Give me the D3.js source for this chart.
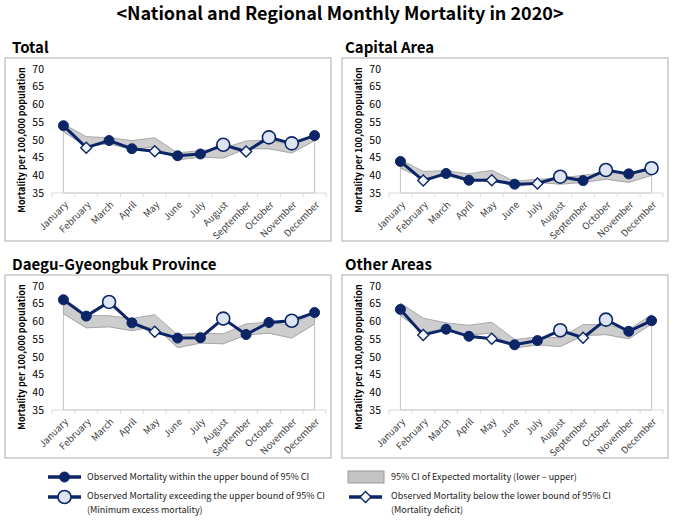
<!DOCTYPE html>
<html>
<head>
<meta charset="utf-8">
<script src="https://cdn.jsdelivr.net/npm/d3@7"></script>
<style>
  body { margin: 0; background: #fff; }
  svg text { font-family: "Noto Sans CJK KR", "Noto Sans", sans-serif; }
</style>
</head>
<body>
<div id="chart"></div>
<script>
// months on the x axis
var months = ["January", "February", "March", "April", "May", "June", "July",
  "August", "September", "October", "November", "December"];
var yTicks = [35, 40, 45, 50, 55, 60, 65, 70];

// observed mortality per region
var totalObs   = [54.0, 47.8, 49.8, 47.5, 46.8, 45.5, 46.0, 48.6, 46.7, 50.7, 49.0, 51.2];
var capitalObs = [43.9, 38.5, 40.5, 38.6, 38.6, 37.5, 37.7, 39.6, 38.5, 41.5, 40.4, 42.0];
var daeguObs   = [66.1, 61.5, 65.5, 59.6, 57.1, 55.3, 55.4, 60.8, 56.3, 59.7, 60.2, 62.5];
var otherObs   = [63.4, 56.2, 57.8, 55.8, 55.1, 53.4, 54.6, 57.5, 55.4, 60.5, 57.2, 60.2];

// 95% CI of expected mortality
var totalLower   = [52.3, 48.2, 48.9, 47.3, 48.1, 44.4, 45.1, 44.9, 47.5, 47.5, 46.3, 49.8];
var totalUpper   = [54.5, 50.9, 50.6, 49.8, 50.6, 46.3, 47.0, 47.6, 49.7, 50.0, 48.5, 51.5];
var capitalLower = [42.0, 39.2, 39.9, 38.4, 39.2, 36.7, 38.0, 37.5, 38.0, 38.9, 38.0, 40.0];
var capitalUpper = [44.4, 41.1, 41.3, 40.4, 41.4, 38.3, 38.9, 39.2, 40.0, 40.8, 40.8, 41.4];
var daeguLower   = [62.2, 58.2, 58.5, 57.4, 58.6, 52.6, 53.9, 53.7, 56.2, 56.7, 55.3, 59.3];
var daeguUpper   = [66.5, 61.7, 61.6, 60.8, 61.9, 56.2, 56.7, 56.5, 59.3, 59.8, 58.9, 62.6];
var otherLower   = [61.7, 57.0, 57.6, 56.2, 56.7, 52.5, 53.4, 52.9, 56.0, 56.3, 55.1, 59.3];
var otherUpper   = [65.2, 60.9, 59.6, 58.9, 59.8, 54.9, 55.6, 55.4, 59.1, 59.1, 57.7, 61.9];

// marker type: "in" within upper bound, "over" above upper, "under" below lower
var totalStatus   = ["in", "under", "in", "in", "under", "in", "in", "over", "under", "over", "over", "in"];
var capitalStatus = ["in", "under", "in", "in", "under", "in", "under", "over", "in", "over", "in", "over"];
var daeguStatus   = ["in", "in", "over", "in", "under", "in", "in", "over", "in", "in", "over", "in"];
var otherStatus   = ["in", "under", "in", "in", "under", "in", "in", "over", "under", "over", "in", "in"];

var navy = "#0b2566";
var lightFill = "#dde5f2";

var svg = d3.select("#chart").append("svg")
  .attr("width", 677)
  .attr("height", 520);

svg.append("text")
  .attr("x", 340).attr("y", 20)
  .attr("text-anchor", "middle")
  .attr("font-size", 18).attr("font-weight", "bold")
  .attr("fill", "#000")
  .text("<National and Regional Monthly Mortality in 2020>");

var panels = [
  { title: "Total", obs: totalObs, lower: totalLower, upper: totalUpper, status: totalStatus, left: 5, top: 58 },
  { title: "Capital Area", obs: capitalObs, lower: capitalLower, upper: capitalUpper, status: capitalStatus, left: 342, top: 58 },
  { title: "Daegu-Gyeongbuk Province", obs: daeguObs, lower: daeguLower, upper: daeguUpper, status: daeguStatus, left: 5, top: 275 },
  { title: "Other Areas", obs: otherObs, lower: otherLower, upper: otherUpper, status: otherStatus, left: 342, top: 275 }
];

function drawMarker(g, type, cx, cy) {
  if (type === "in") {
    g.append("circle").attr("cx", cx).attr("cy", cy).attr("r", 5)
      .attr("fill", navy).attr("stroke", navy).attr("stroke-width", 1);
  } else if (type === "over") {
    g.append("circle").attr("cx", cx).attr("cy", cy).attr("r", 6.5)
      .attr("fill", lightFill).attr("stroke", navy).attr("stroke-width", 1.6);
  } else {
    var s = 5.5;
    g.append("path")
      .attr("d", `M${cx},${cy - s}L${cx + s},${cy}L${cx},${cy + s}L${cx - s},${cy}Z`)
      .attr("fill", "#f4f6fa").attr("stroke", navy).attr("stroke-width", 1.4);
  }
}

function drawPanel(p) {
  var g = svg.append("g").attr("transform", `translate(${p.left},${p.top})`);

  // panel frame
  g.append("rect")
    .attr("x", 0).attr("y", 0).attr("width", 326).attr("height", 183)
    .attr("fill", "none").attr("stroke", "#bfbfbf").attr("stroke-width", 1.3);

  g.append("text")
    .attr("x", p.left === 5 ? 7 : 3).attr("y", -5)
    .attr("font-size", 15).attr("font-weight", "bold").attr("fill", "#000")
    .text(p.title);

  var x = d3.scaleBand().domain(months).range([47, 321]);
  var y = d3.scaleLinear().domain([35, 70]).range([135, 11]);
  var cx = d => x(d) + x.bandwidth() / 2;

  // lower series area (white) and the CI band
  var lowerArea = d3.area()
    .x((d, i) => cx(months[i]))
    .y0(y(35))
    .y1(d => y(d));
  g.append("path")
    .datum(p.lower)
    .attr("d", lowerArea)
    .attr("fill", "#fff").attr("stroke", "#c4c4c4").attr("stroke-width", 1);

  var band = d3.area()
    .x((d, i) => cx(months[i]))
    .y0((d, i) => y(p.lower[i]))
    .y1(d => y(d));
  g.append("path")
    .datum(p.upper)
    .attr("d", band)
    .attr("fill", "#cdcdcd").attr("stroke", "#a9a9a9").attr("stroke-width", 1);

  // x axis
  g.append("line")
    .attr("x1", 47).attr("x2", 321)
    .attr("y1", y(35)).attr("y2", y(35))
    .attr("stroke", "#d9d9d9").attr("stroke-width", 1);
  g.selectAll(".tk")
    .data(months.concat(["end"]))
    .enter().append("line")
    .attr("x1", d => d === "end" ? 321 : x(d))
    .attr("x2", d => d === "end" ? 321 : x(d))
    .attr("y1", y(35)).attr("y2", y(35) + 4)
    .attr("stroke", "#d9d9d9");

  g.selectAll(".xl")
    .data(months)
    .enter().append("text")
    .attr("transform", d => `translate(${cx(d) + 3},${y(35) + 10}) rotate(-45)`)
    .attr("text-anchor", "end")
    .attr("dy", "0.35em")
    .attr("font-size", 9.5).attr("fill", "#404040")
    .text(d => d);

  // y tick labels
  g.selectAll(".yl")
    .data(yTicks)
    .enter().append("text")
    .attr("x", 39).attr("y", d => y(d))
    .attr("dy", "0.35em")
    .attr("text-anchor", "end")
    .attr("font-size", 10.5).attr("fill", "#000")
    .text(d => d);

  g.append("text")
    .attr("transform", `translate(20,${82}) rotate(-90)`)
    .attr("text-anchor", "middle")
    .attr("font-size", 9).attr("font-weight", "bold").attr("fill", "#000")
    .text("Mortality per 100,000 population");

  // observed line + markers
  var line = d3.line().x((d, i) => cx(months[i])).y(d => y(d));
  g.append("path")
    .datum(p.obs)
    .attr("d", line)
    .attr("fill", "none").attr("stroke", navy).attr("stroke-width", 3);

  p.obs.forEach(function(v, i) {
    drawMarker(g, p.status[i], cx(months[i]), y(v));
  });
}

panels.forEach(drawPanel);

// legend
var legend = svg.append("g");
function legendLine(xPos, yPos, type) {
  legend.append("line")
    .attr("x1", xPos).attr("x2", xPos + 33)
    .attr("y1", yPos).attr("y2", yPos)
    .attr("stroke", navy).attr("stroke-width", 3.5);
  drawMarker(legend, type, xPos + 16.5, yPos);
}
legendLine(48, 477, "in");
legendLine(48, 497, "over");
legendLine(349, 497, "under");
legend.append("rect")
  .attr("x", 348).attr("y", 471).attr("width", 36).attr("height", 12)
  .attr("fill", "#c4c4c4").attr("stroke", "#9a9a9a");

var legendText = [
  { x: 87, y: 477, t: "Observed Mortality within the upper bound of 95% CI" },
  { x: 87, y: 496, t: "Observed Mortality exceeding the upper bound of 95% CI" },
  { x: 87, y: 510, t: "(Minimum excess mortality)" },
  { x: 391, y: 477, t: "95% CI of Expected mortality (lower \u2013 upper)" },
  { x: 391, y: 496, t: "Observed Mortality below the lower bound of 95% CI" },
  { x: 391, y: 510, t: "(Mortality deficit)" }
];
legend.selectAll("text")
  .data(legendText)
  .enter().append("text")
  .attr("x", d => d.x).attr("y", d => d.y)
  .attr("dy", "0.35em")
  .attr("font-size", 9).attr("fill", "#222")
  .text(d => d.t);
</script>
</body>
</html>
